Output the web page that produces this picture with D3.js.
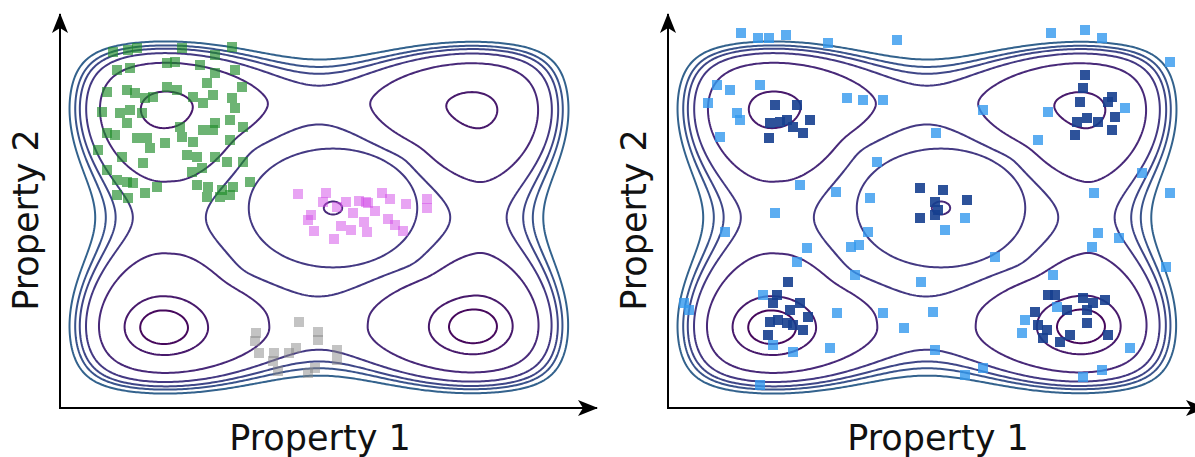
<!DOCTYPE html>
<html lang="en">
<head>
<meta charset="utf-8">
<title>Energy landscape - two panels</title>
<script src="https://d3js.org/d3.v7.min.js"></script>
<style>
  body { margin: 0; background: #fff; }
  svg { display: block; }
  .label { font-family: "DejaVu Sans", Verdana, sans-serif; font-size: 35px; fill: #111; }
</style>
</head>
<body>
<svg id="chart" width="1195" height="457"></svg>
<script>
// ---------- data (arbitrary units, x 0..52, y 0..36.7) ----------
// wells of the landscape: TL, TR, BL, BR and the centre one
const wellX = [10.3, 41.5, 10.3, 41.4];
const wellY = [30.1, 30.0, 8.0, 8.1];
const broadDepth = [1.0, 1.0, 1.0, 1.0];
const narrowDepth = [0.1, 0.1, 0.8, 0.8];
const centreX = 27.3, centreY = 20.0;

// contour levels, inner ring .. outermost line
const levels = [-1.403, -0.974, -0.427, -0.180, -0.057, 0.036, 0.154];

// left panel: three groups
const greenX = [5.3,6.8,7.7,12.2,15.5,17.2,10.7,11.5,14.0,15.5,17.5,18.2,14.7,5.7,7.0,4.7,6.7,7.5,8.5,9.3,10.7,11.7,13.3,14.3,15.3,17.2,17.5,4.2,6.0,7.0,8.2,6.7,4.7,5.5,7.7,8.7,9.0,10.5,12.0,12.2,13.3,14.3,15.3,15.5,17.0,17.0,18.3,3.8,6.2,8.3,12.7,13.7,15.5,16.7,18.3,4.7,5.7,6.7,7.3,9.7,8.5,5.7,6.8,13.2,14.2,13.7,14.8,16.2,17.3,19.0,14.7,16.0,17.0];
const greenY = [35.6,35.8,36.0,36.0,35.3,36.1,34.5,34.6,34.3,33.5,33.8,32.1,32.5,33.8,34.0,31.6,31.8,31.5,31.0,31.1,32.1,31.8,31.1,30.5,31.3,31.0,30.0,29.6,29.5,29.8,29.5,28.5,27.5,27.3,27.0,27.0,26.0,26.5,28.1,27.1,26.6,27.8,27.8,28.5,28.8,26.8,28.1,25.8,25.1,24.5,25.3,25.1,25.1,24.6,24.6,23.8,22.8,22.6,22.5,22.1,21.5,21.3,21.0,23.6,24.0,22.3,22.1,21.8,22.1,22.6,21.1,21.1,21.3];
const magentaX = [23.8,26.6,26.3,25.1,24.8,25.4,27.4,28.1,29.1,28.6,27.7,29.3,29.9,30.6,30.8,30.4,30.7,31.5,32.2,33.0,32.8,33.5,34.3,34.6,36.7,36.7];
const magentaY = [21.4,21.5,20.6,19.3,18.8,17.7,16.9,18.2,17.8,20.6,20.1,19.5,20.7,20.6,20.5,18.6,17.6,19.7,21.5,20.9,18.9,18.3,17.7,20.4,20.9,20.0];
const greyX = [23.9,19.6,19.5,25.8,25.8,19.9,21.4,21.3,22.9,23.6,27.7,27.7,21.8,24.8,25.5];
const greyY = [8.6,7.5,6.7,7.6,6.8,5.5,5.5,4.7,5.5,6.0,5.8,4.8,3.7,3.5,4.0];

// right panel: wide sample (light) and samples near minima (dark)
const lightX = [4.9,6.2,9.2,4.0,6.9,7.2,5.2,17.9,19.5,21.5,20.9,29.7,27.7,12.9,18.7,9.5,16.9,21.5,10.5,12.5,16.2,9.2,38.5,38.9,35.7,35.4,46.2,31.5,41.5,43.4,31.5,38.0,37.0,45.7,7.3,9.0,10.1,11.8,16.0,22.9,38.3,41.7,43.4,50.2,26.8,13.2,16.8,20.2,10.7,5.7,20.0,19.1,18.3,13.9,32.7,42.6,47.4,50.2,43.0,45.1,42.4,49.8,25.3,26.5,23.6,2.1,1.6,26.7,29.7];
const lightY = [32.3,31.8,32.3,30.5,29.5,28.8,27.1,31.0,30.8,30.8,24.6,19.0,17.8,14.6,13.3,11.3,9.5,9.5,6.3,5.6,6.0,2.3,13.3,10.1,8.8,7.5,6.0,4.0,3.1,3.8,29.8,29.6,26.8,30.0,37.5,37.0,37.0,37.3,36.5,36.8,37.5,37.8,37.0,34.6,27.5,22.3,21.6,21.0,19.5,17.6,17.6,16.3,16.1,16.0,15.1,21.5,23.5,21.5,17.5,17.0,16.1,14.1,12.6,9.6,8.0,9.8,10.5,5.8,3.3];
const darkX = [10.7,12.9,14.2,10.2,11.2,11.9,12.5,13.5,10.1,25.2,27.5,29.9,26.7,27.0,25.2,26.7,12.0,10.9,10.5,13.2,12.2,14.0,10.2,11.0,11.9,12.5,13.5,10.0,38.0,38.7,36.7,39.9,41.5,42.5,43.7,41.9,41.9,37.0,37.9,37.5,39.2,40.2,44.0,41.7,41.5,41.2,44.0,44.4,44.7,40.9,41.9,43.0,40.7,44.4];
const darkY = [30.3,30.3,28.8,28.5,28.6,28.8,28.1,27.5,27.0,22.0,21.8,20.8,20.6,19.8,19.0,19.3,12.6,11.3,10.5,10.5,9.8,9.1,8.6,8.8,8.5,8.3,7.8,7.3,11.3,11.3,9.6,9.8,11.0,10.5,10.8,9.8,8.5,8.3,7.8,7.0,6.6,7.3,7.3,33.3,32.0,30.6,30.6,31.1,29.1,28.6,29.0,28.6,27.3,27.8];

// ---------- landscape ----------
const moat = {cx: 25.9, cy: 19.05, hx: 15.6, hy: 11.0};
const P = 10, K_IN = 1.75, K_OUT = 1.78, S1 = 0.5, S2 = 0.15;

const pnorm = (u, v) => Math.pow(Math.pow(Math.abs(u), P) + Math.pow(Math.abs(v), P), 1 / P);

function baseEnergy(x, y) {
  // inner wall measured from the centre well, outer wall from the middle of the corner wells
  const rIn = Math.min(pnorm((x - centreX) / moat.hx, (y - centreY) / moat.hy), 1);
  const rOut = Math.max(pnorm((x - moat.cx) / moat.hx, (y - moat.cy) / moat.hy), 1);
  let e = K_IN * Math.pow((rIn * rIn - 1) / 2, 2) + K_OUT * (rOut - 1) * (rOut - 1);
  for (let i = 0; i < wellX.length; i++) {
    const du = (x - wellX[i]) / moat.hx, dv = (y - wellY[i]) / moat.hy;
    const d2 = du * du + dv * dv;
    e -= broadDepth[i] * Math.exp(-d2 / (2 * S1 * S1)) + narrowDepth[i] * Math.exp(-d2 / (2 * S2 * S2));
  }
  return e;
}

// round centre basin: tiny ring at the third level, ellipse at the fourth (radius 0.54)
const eC = levels[2] - 0.003, kC = (levels[3] - eC) / (0.54 * 0.54);
// the ridge round the centre basin stays just under the fifth level
const ridgeTop = levels[4] - 0.02, ridgeR = 0.74;

function energy(x, y) {
  const a = baseEnergy(x, y);
  const cu = (x - centreX) / moat.hx, cv = (y - centreY) / moat.hy;
  const r = Math.sqrt(cu * cu + cv * cv);
  const b = eC + kC * r * r;
  const m = Math.min(a, b), k = 0.015;
  const e = m - k * Math.log(1 + Math.exp(-Math.abs(a - b) / k));
  const over = Math.max(0, r - ridgeR);
  return Math.min(e, ridgeTop + 40 * over * over);
}

// grid (negated so every level encloses its basins)
const GX0 = -3, GY0 = -3, STEP = 0.2, NX = 291, NY = 221;
const grid = new Array(NX * NY);
for (let j = 0; j < NY; j++)
  for (let i = 0; i < NX; i++)
    grid[i + j * NX] = -energy(GX0 + i * STEP, GY0 + j * STEP);

const contours = d3.contours().size([NX, NY]).thresholds(levels.map(l => -l))(grid);
const rankOf = v => d3.minIndex(levels, l => Math.abs(l + v));
const lineColour = d3.scaleLinear().domain([0, levels.length - 1]).range([0.02, 0.31]);

const svg = d3.select('#chart');

svg.append('defs').append('marker')
  .attr('id', 'arrow')
  .attr('viewBox', '0 0 20 16')
  .attr('refX', 19).attr('refY', 8)
  .attr('markerWidth', 20).attr('markerHeight', 16)
  .attr('markerUnits', 'userSpaceOnUse')
  .attr('orient', 'auto')
  .append('path')
  .attr('d', 'M0,0 L20,8 L0,16 L5,8 Z')
  .attr('fill', '#000');

function drawPanel(ox, labelX, groups) {
  const x = d3.scaleLinear().domain([0, 52]).range([ox, ox + 520]);
  const y = d3.scaleLinear().domain([0, 36.7]).range([408, 41]);
  const g = svg.append('g');

  const proj = d3.geoTransform({
    point: function (px, py) {
      this.stream.point(x(GX0 + (px - 0.5) * STEP), y(GY0 + (py - 0.5) * STEP));
    }
  });
  const path = d3.geoPath(proj);

  g.selectAll('path.iso')
    .data(contours)
    .join('path')
    .attr('class', 'iso')
    .attr('d', path)
    .attr('fill', 'none')
    .attr('stroke', d => d3.interpolateViridis(lineColour(rankOf(d.value))))
    .attr('stroke-width', 2);

  groups.forEach(gr => {
    g.append('g').selectAll('rect')
      .data(d3.zip(gr.xs, gr.ys))
      .join('rect')
      .attr('x', d => x(d[0]) - 5)
      .attr('y', d => y(d[1]) - 5)
      .attr('width', 10).attr('height', 10)
      .attr('fill', gr.colour)
      .attr('fill-opacity', gr.alpha);
  });

  g.append('line')
    .attr('x1', x(0)).attr('y1', y(0) + 1).attr('x2', x(0)).attr('y2', 14)
    .attr('stroke', '#000').attr('stroke-width', 2).attr('marker-end', 'url(#arrow)');
  g.append('line')
    .attr('x1', x(0) - 1).attr('y1', y(0)).attr('x2', x(0) + 537).attr('y2', y(0))
    .attr('stroke', '#000').attr('stroke-width', 2).attr('marker-end', 'url(#arrow)');

  g.append('text').attr('class', 'label')
    .attr('x', x(labelX)).attr('y', 450)
    .attr('text-anchor', 'middle')
    .text('Property 1');
  g.append('text').attr('class', 'label')
    .attr('transform', `translate(${x(0) - 22},${y(18.8)}) rotate(-90)`)
    .attr('text-anchor', 'middle')
    .text('Property 2');
}

drawPanel(60, 26, [
  {xs: greenX, ys: greenY, colour: '#1e8c2a', alpha: 0.65},
  {xs: magentaX, ys: magentaY, colour: '#d24ae8', alpha: 0.5},
  {xs: greyX, ys: greyY, colour: '#888888', alpha: 0.5}
]);
drawPanel(668, 27, [
  {xs: lightX, ys: lightY, colour: '#3399ee', alpha: 0.8},
  {xs: darkX, ys: darkY, colour: '#163f8f', alpha: 0.9}
]);
</script>
</body>
</html>
